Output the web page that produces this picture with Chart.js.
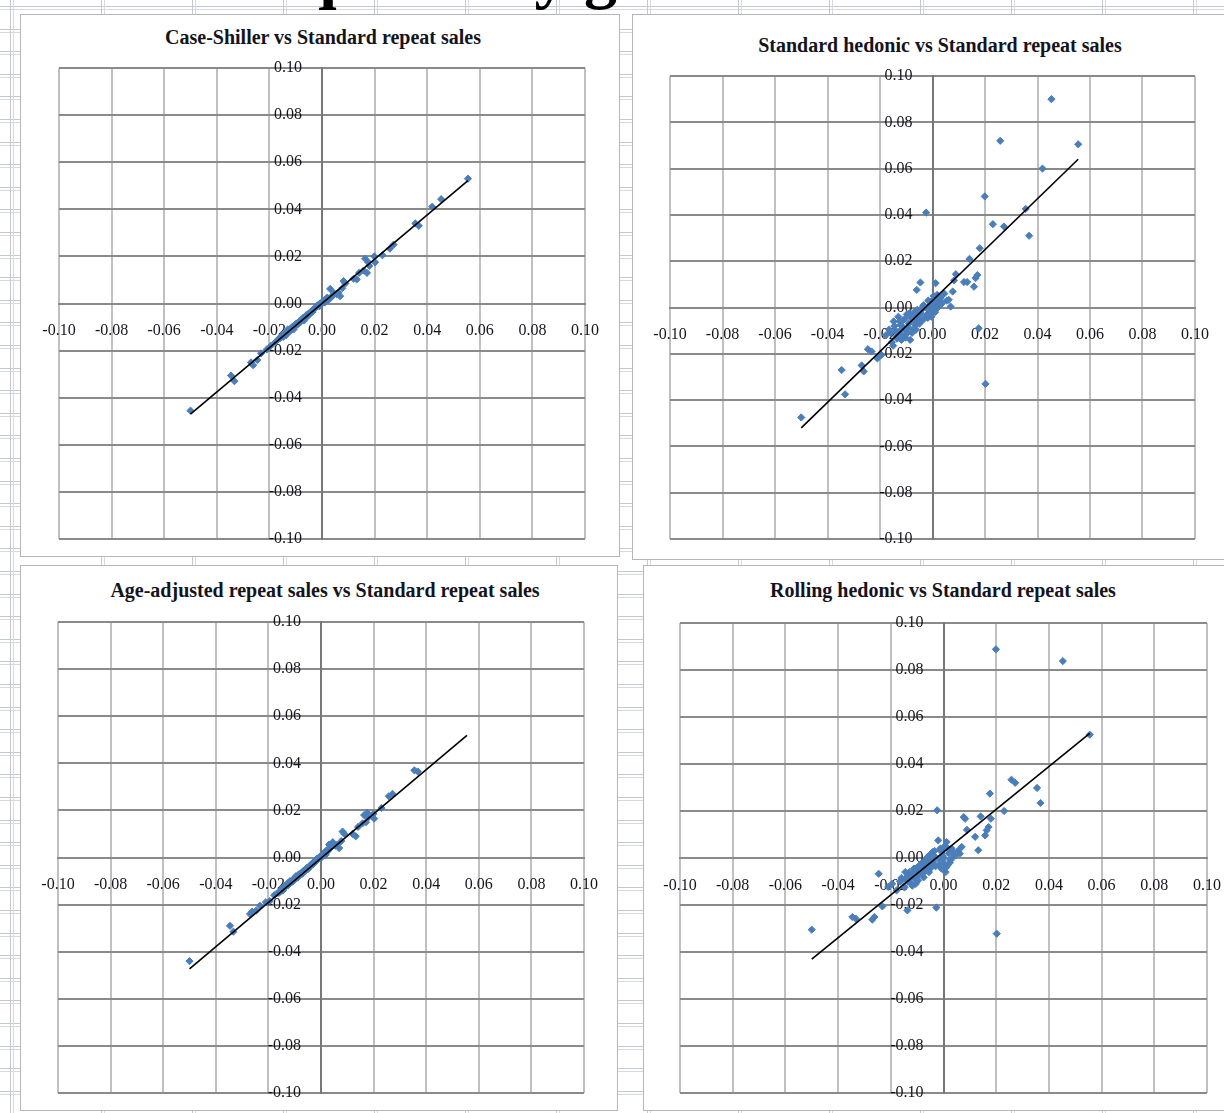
<!DOCTYPE html>
<html>
<head>
<meta charset="utf-8">
<script src="https://cdn.jsdelivr.net/npm/chart.js@4.4.1/dist/chart.umd.min.js"></script>
<style>
  html, body { margin: 0; padding: 0; }
  body {
    width: 1224px; height: 1113px; position: relative; overflow: hidden;
    background-color: #fff;
    background-image:
      repeating-linear-gradient(to right, transparent 0 10px, #c4c8d1 10px 11px, transparent 11px 13px, #d6d9e0 13px 14px, transparent 14px 91px),
      repeating-linear-gradient(to bottom, transparent 0 6px, #c4c8d1 6px 7px, transparent 7px 9px, #d6d9e0 9px 10px, transparent 10px 22.6px);
    font-family: "Liberation Serif", serif;
  }
  .sheet-title {
    position: absolute; left: 300px; top: -59px; white-space: nowrap;
    font: bold 66px/66px "Liberation Serif", serif; color: #000;
  }
  .frame { position: absolute; background: #fff; border: 1px solid #b6b6b6; box-sizing: border-box; }
  .title {
    position: absolute; width: 600px; text-align: center; white-space: nowrap;
    font: bold 20px/24px "Liberation Serif", serif; color: #14141c;
  }
  canvas { position: absolute; }
</style>
</head>
<body>
<div class="sheet-title">quarterly growth rates</div>

<div class="frame" style="left:20px;top:14px;width:600px;height:543px"></div>
<div class="frame" style="left:632px;top:14px;width:600px;height:546px"></div>
<div class="frame" style="left:20px;top:565px;width:598px;height:546px"></div>
<div class="frame" style="left:643px;top:565px;width:600px;height:546px"></div>

<div class="title" id="t0" style="left:23px;top:25px"></div>
<div class="title" id="t1" style="left:640px;top:33px"></div>
<div class="title" id="t2" style="left:25px;top:578px"></div>
<div class="title" id="t3" style="left:643px;top:578px"></div>

<canvas id="c0" width="600" height="543" style="left:20px;top:14px"></canvas>
<canvas id="c1" width="592" height="546" style="left:632px;top:14px"></canvas>
<canvas id="c2" width="598" height="546" style="left:20px;top:565px"></canvas>
<canvas id="c3" width="581" height="546" style="left:643px;top:565px"></canvas>

<script>
// Axis ticks shared by every panel (both axes run -0.10 .. 0.10)
const tickValues = [-0.10, -0.08, -0.06, -0.04, -0.02, 0.00, 0.02, 0.04, 0.06, 0.08, 0.10];

const panelTitles = [
  "Case-Shiller vs Standard repeat sales",
  "Standard hedonic vs Standard repeat sales",
  "Age-adjusted repeat sales vs Standard repeat sales",
  "Rolling hedonic vs Standard repeat sales"
];

// Quarterly growth, standard repeat sales index (x axis of every panel)
const standardRS = [
  -0.0500, -0.0346, -0.0333, -0.0270, -0.0262, -0.0246, -0.0232, -0.0210, -0.0195, -0.0178,
  -0.0165, -0.0155, -0.0148, -0.0140, -0.0137, -0.0130, -0.0127, -0.0122, -0.0118, -0.0112,
  -0.0108, -0.0103, -0.0098, -0.0096, -0.0090, -0.0085, -0.0080, -0.0075, -0.0070, -0.0068,
  -0.0063, -0.0060, -0.0055, -0.0050, -0.0046, -0.0042, -0.0038, -0.0034, -0.0030, -0.0027,
  -0.0024, -0.0020, -0.0016, -0.0012, -0.0008, -0.0004, 0.0000, 0.0004, 0.0008, 0.0012,
  0.0016, 0.0020, 0.0026, 0.0031, 0.0037, 0.0045, 0.0055, 0.0062, 0.0069, 0.0077,
  0.0082, 0.0089, 0.0120, 0.0132, 0.0141, 0.0158, 0.0164, 0.0171, 0.0176, 0.0180,
  0.0199, 0.0202, 0.0230, 0.0258, 0.0272, 0.0355, 0.0368, 0.0419, 0.0453, 0.0555,
  -0.0160, -0.0150, -0.0145, -0.0135, -0.0125, -0.0115, -0.0105, -0.0100, -0.0093, -0.0088,
  -0.0078, -0.0072, -0.0065, -0.0058, -0.0052, -0.0044, -0.0036, -0.0018, -0.0010, 0.0002,
  0.0010, 0.0018, 0.0024, 0.0034
];

// Quarterly growth of each comparison index (y axis); null = no value for that quarter
const caseShiller = [
  -0.0455, -0.0306, -0.0330, -0.0250, -0.0262, -0.0240, -0.0212, -0.0195, -0.0180, -0.0165,
  -0.0150, -0.0140, -0.0142, -0.0125, -0.0135, -0.0110, -0.0120, -0.0118, -0.0105, -0.0098,
  -0.0110, -0.0090, -0.0092, -0.0085, -0.0080, -0.0082, -0.0070, -0.0068, -0.0060, -0.0072,
  -0.0055, -0.0050, -0.0048, -0.0042, -0.0040, -0.0035, -0.0030, -0.0028, -0.0022, -0.0020,
  -0.0015, -0.0012, -0.0008, -0.0005, 0.0000, -0.0002, 0.0005, 0.0010, 0.0005, 0.0018,
  0.0012, 0.0025, 0.0020, 0.0062, 0.0030, 0.0045, 0.0040, 0.0045, 0.0031, 0.0065,
  0.0095, 0.0085, 0.0105, 0.0102, 0.0130, 0.0140, 0.0190, 0.0130, 0.0175, 0.0160,
  0.0200, 0.0175, 0.0205, 0.0233, 0.0250, 0.0340, 0.0330, 0.0411, 0.0443, 0.0530,
  -0.0148, -0.0135, -0.0138, -0.0122, -0.0112, -0.0110, -0.0095, -0.0088, -0.0090, -0.0078,
  -0.0075, -0.0062, -0.0064, -0.0050, -0.0052, -0.0038, -0.0036, -0.0010, -0.0012, 0.0003,
  0.0004, 0.0020, 0.0015, 0.0025
];

const standardHedonic = [
  -0.0475, -0.0270, -0.0375, -0.0250, -0.0276, -0.0180, -0.0190, -0.0220, -0.0205, -0.0120,
  -0.0095, -0.0150, -0.0060, -0.0100, -0.0125, -0.0040, -0.0104, -0.0075, -0.0140, -0.0055,
  -0.0090, -0.0130, -0.0030, -0.0110, -0.0070, -0.0140, -0.0045, -0.0095, -0.0020, -0.0060,
  -0.0096, 0.0076, -0.0035, -0.0070, 0.0108, -0.0010, -0.0055, 0.0010, -0.0046, 0.0000,
  0.0410, -0.0030, 0.0030, -0.0015, 0.0025, -0.0040, -0.0017, 0.0050, 0.0015, 0.0105,
  -0.0005, 0.0030, 0.0012, 0.0040, 0.0020, 0.0060, 0.0030, 0.0033, 0.0004, 0.0069,
  0.0117, 0.0144, 0.0110, 0.0110, 0.0210, 0.0090, 0.0127, 0.0140, -0.0090, 0.0256,
  0.0480, -0.0330, 0.0360, 0.0720, 0.0350, 0.0426, 0.0310, 0.0600, 0.0900, 0.0705,
  -0.0110, -0.0165, -0.0080, -0.0135, -0.0060, -0.0120, -0.0050, -0.0100, -0.0085, -0.0025,
  -0.0110, -0.0040, -0.0075, -0.0010, -0.0050, -0.0025, 0.0005, -0.0045, 0.0010, 0.0030,
  -0.0020, 0.0055, 0.0005, 0.0015
];

const ageAdjustedRS = [
  -0.0440, -0.0290, -0.0315, -0.0240, -0.0230, -0.0225, -0.0205, -0.0190, -0.0185, -0.0160,
  -0.0150, -0.0145, -0.0132, -0.0128, -0.0120, -0.0115, -0.0110, -0.0112, -0.0100, -0.0105,
  -0.0095, -0.0092, -0.0088, -0.0080, -0.0085, -0.0072, -0.0075, -0.0065, -0.0068, -0.0058,
  -0.0055, -0.0052, -0.0045, -0.0050, -0.0038, -0.0035, -0.0030, -0.0025, -0.0028, -0.0018,
  -0.0015, -0.0012, -0.0005, -0.0008, 0.0000, 0.0004, 0.0006, 0.0010, 0.0015, 0.0020,
  0.0010, 0.0028, 0.0035, 0.0055, 0.0045, 0.0065, 0.0050, 0.0055, 0.0040, 0.0070,
  0.0110, 0.0100, 0.0100, 0.0090, 0.0130, 0.0145, 0.0180, 0.0150, 0.0190, 0.0170,
  0.0185, 0.0165, 0.0210, 0.0260, 0.0270, 0.0370, 0.0365, null, null, null,
  -0.0150, -0.0138, -0.0140, -0.0125, -0.0118, -0.0105, -0.0100, -0.0090, -0.0082, -0.0085,
  -0.0070, -0.0070, -0.0060, -0.0055, -0.0045, -0.0042, -0.0032, -0.0015, -0.0005, 0.0000,
  0.0012, 0.0015, 0.0025, 0.0038
];

const rollingHedonic = [
  -0.0305, -0.0251, -0.0258, -0.0262, -0.0251, -0.0067, -0.0206, -0.0123, -0.0110, -0.0138,
  -0.0100, -0.0090, -0.0125, -0.0081, -0.0223, -0.0060, -0.0105, -0.0070, -0.0118, -0.0045,
  -0.0090, -0.0055, -0.0075, -0.0095, -0.0030, -0.0065, -0.0020, -0.0082, -0.0010, -0.0050,
  -0.0025, 0.0005, -0.0060, 0.0015, -0.0040, 0.0025, -0.0015, 0.0030, -0.0035, -0.0211,
  0.0203, 0.0075, -0.0005, 0.0040, -0.0045, 0.0010, -0.0020, 0.0050, -0.0060, 0.0068,
  -0.0030, 0.0020, -0.0010, 0.0040, 0.0005, 0.0011, 0.0030, 0.0018, 0.0047, 0.0174,
  0.0167, 0.0120, 0.0090, 0.0033, 0.0177, 0.0096, 0.0118, 0.0132, 0.0274, 0.0167,
  0.0888, -0.0322, 0.0200, 0.0333, 0.0320, 0.0298, 0.0234, null, 0.0838, 0.0525,
  -0.0085, -0.0120, -0.0060, -0.0100, -0.0080, -0.0065, -0.0110, -0.0040, -0.0070, -0.0050,
  -0.0035, -0.0060, -0.0015, -0.0040, 0.0000, -0.0020, 0.0010, -0.0030, 0.0030, 0.0000,
  -0.0040, 0.0040, -0.0020, 0.0025
];

// Linear trend fitted to each panel
const trendSlope = [0.94, 1.10, 0.94, 0.91];
const trendIntercept = [0.0000, 0.0030, -0.0003, 0.0025];

const panelSeries = [caseShiller, standardHedonic, ageAdjustedRS, rollingHedonic];

// Plot-area padding inside each canvas: [left, top, right, bottom]
const panelPadding = [
  [39, 54, 35, 18],
  [38, 62, 29, 21],
  [38, 57, 34, 18],
  [37, 58, 17, 18]
];

const tickFont = { family: "Liberation Serif", size: 16 };
const tickColor = "#15151f";
// value labels on the vertical axis sit a little to the left of the axis line
const yLabelGap = "     ";

function buildPanel(i) {
  document.getElementById("t" + i).textContent = panelTitles[i];
  const ys = panelSeries[i];
  const pts = [];
  standardRS.forEach((x, k) => { if (ys[k] !== null) pts.push({ x: x, y: ys[k] }); });
  const xMin = Math.min(...standardRS), xMax = Math.max(...standardRS);
  const trend = [xMin, xMax].map(x => ({ x: x, y: trendSlope[i] * x + trendIntercept[i] }));
  const pad = panelPadding[i];

  const axisTicks = s => { s.ticks = tickValues.map(v => ({ value: v })); };

  new Chart(document.getElementById("c" + i), {
    type: "scatter",
    data: {
      datasets: [
        {
          type: "line", data: trend, order: 0,
          borderColor: "#000", borderWidth: 1.6, pointRadius: 0, fill: false
        },
        {
          data: pts, order: 1,
          pointStyle: "rectRot", pointRadius: 3.6,
          backgroundColor: "#4a7ebb", borderColor: "#4a7ebb", pointBorderWidth: 1
        }
      ]
    },
    options: {
      responsive: false, animation: false, devicePixelRatio: 1,
      layout: { padding: { left: pad[0], top: pad[1], right: pad[2], bottom: pad[3] } },
      plugins: { legend: { display: false }, title: { display: false }, tooltip: { enabled: false } },
      scales: {
        x: {
          type: "linear", min: -0.1, max: 0.1,
          position: { y: 0 },
          afterBuildTicks: axisTicks,
          // invisible tick marks push the labels down below the horizontal axis
          grid: { color: "#c0c0c0", lineWidth: 2, drawTicks: true, tickLength: 18, tickColor: "rgba(0,0,0,0)" },
          border: { color: "#8a8a8a", width: 2 },
          ticks: { font: tickFont, color: tickColor, padding: 0, maxRotation: 0, autoSkip: false,
                   callback: v => v.toFixed(2) }
        },
        y: {
          type: "linear", min: -0.1, max: 0.1,
          position: { x: 0 },
          afterBuildTicks: axisTicks,
          grid: { color: "#8a8a8a", lineWidth: 2, drawTicks: false },
          border: { color: "#777", width: 2 },
          ticks: { font: tickFont, color: tickColor, autoSkip: false,
                   callback: v => v.toFixed(2) + yLabelGap }
        }
      }
    }
  });
}

for (let i = 0; i < 4; i++) buildPanel(i);
</script>
</body>
</html>
